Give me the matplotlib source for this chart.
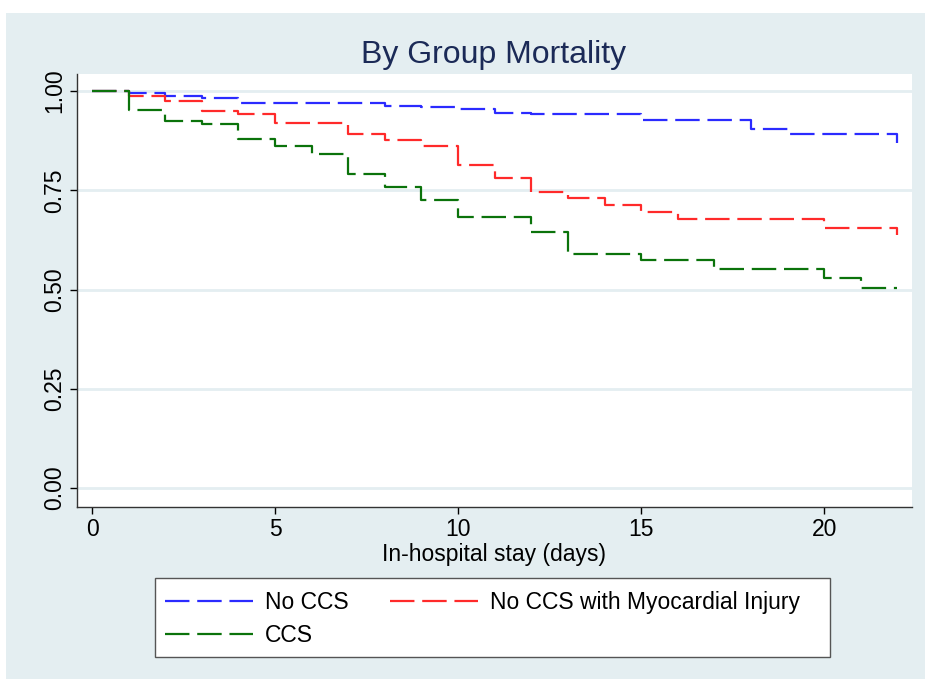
import matplotlib
matplotlib.use("Agg")
import matplotlib.pyplot as plt
from matplotlib.patches import Rectangle

plt.rcParams['font.family'] = ['Liberation Sans', 'DejaVu Sans']

# Kaplan-Meier estimates
days_no_ccs = [0, 1, 2, 3, 4, 8, 9, 10, 11, 12, 15, 18, 19, 22]
surv_no_ccs = [1.0, 0.995, 0.987, 0.982, 0.97, 0.962, 0.96, 0.955, 0.945,
               0.942, 0.927, 0.904, 0.892, 0.87]

days_inj = [0, 1, 2, 3, 4, 5, 7, 8, 9, 10, 11, 12, 13, 14, 15, 16, 20, 22]
surv_inj = [1.0, 0.987, 0.975, 0.95, 0.942, 0.92, 0.892, 0.877, 0.861, 0.813,
            0.78, 0.746, 0.73, 0.713, 0.695, 0.677, 0.655, 0.637]

days_ccs = [0, 1, 2, 3, 4, 5, 6, 7, 8, 9, 10, 12, 13, 15, 17, 20, 21, 22]
surv_ccs = [1.0, 0.952, 0.924, 0.917, 0.879, 0.861, 0.841, 0.79, 0.758, 0.725,
            0.683, 0.645, 0.59, 0.574, 0.552, 0.529, 0.504, 0.504]

x_ticks = [0, 5, 10, 15, 20]
y_ticks = [0.0, 0.25, 0.5, 0.75, 1.0]
y_labels = ['0.00', '0.25', '0.50', '0.75', '1.00']

panel = '#e4eef1'
W, H = 925, 679

fig = plt.figure(figsize=(9.25, 6.79), dpi=100, facecolor='white')
# stata-like light panel behind everything
fig.patches.append(Rectangle((6 / W, 0), 1, 1 - 13 / H, transform=fig.transFigure,
                             facecolor=panel, edgecolor='none', zorder=-10))

ax = fig.add_axes([77 / W, 1 - 507 / H, (912 - 77) / W, (507 - 74) / H])
ax.set_facecolor('white')

dash = (0, (11, 3.5))
l1, = ax.step(days_no_ccs, surv_no_ccs, where='post', color='#2b2bff', lw=1.6,
              linestyle=dash, label='No CCS')
l2, = ax.step(days_inj, surv_inj, where='post', color='#ff2a2a', lw=1.6,
              linestyle=dash, label='No CCS with Myocardial Injury')
l3, = ax.step(days_ccs, surv_ccs, where='post', color='#0b730b', lw=1.6,
              linestyle=dash, label='CCS')

ax.set_xlim(-0.41, 22.4)
ax.set_ylim(-0.048, 1.043)
ax.set_xticks(x_ticks)
ax.set_yticks(y_ticks)
ax.set_yticklabels(y_labels, rotation=90, va='center')
ax.tick_params(labelsize=16.5, length=5, width=1, direction='out', pad=3)
ax.yaxis.grid(True, color=panel, lw=2)
ax.set_axisbelow(True)
for s in ['top', 'right']:
    ax.spines[s].set_visible(False)
for s in ['left', 'bottom']:
    ax.spines[s].set_color('#333333')
    ax.spines[s].set_linewidth(1)

ax.set_xlabel('In-hospital stay (days)', fontsize=16.5, labelpad=1)
fig.text(494 / W, 1 - 55 / H, 'By Group Mortality', ha='center', va='center',
         fontsize=23, color='#1b2a57')

# legend box drawn by hand, entries placed inside it
fig.patches.append(Rectangle((155 / W, 1 - 657 / H), (830 - 155) / W, (657 - 578) / H,
                             transform=fig.transFigure, facecolor='white',
                             edgecolor='#555555', lw=1, zorder=1))
# column-major fill -> put CCS second so it lands on row 2
leg = fig.legend([l1, l3, l2], ['No CCS', 'CCS', 'No CCS with Myocardial Injury'],
                 loc='upper left', bbox_to_anchor=(165 / W, 1 - 591 / H),
                 ncol=2, fontsize=16.5, frameon=False,
                 handlelength=3.85, handletextpad=0.52, columnspacing=1.79,
                 borderpad=0, borderaxespad=0, labelspacing=0.45)
leg.set_zorder(2)

fig.savefig('out.png', dpi=100, facecolor=fig.get_facecolor())
